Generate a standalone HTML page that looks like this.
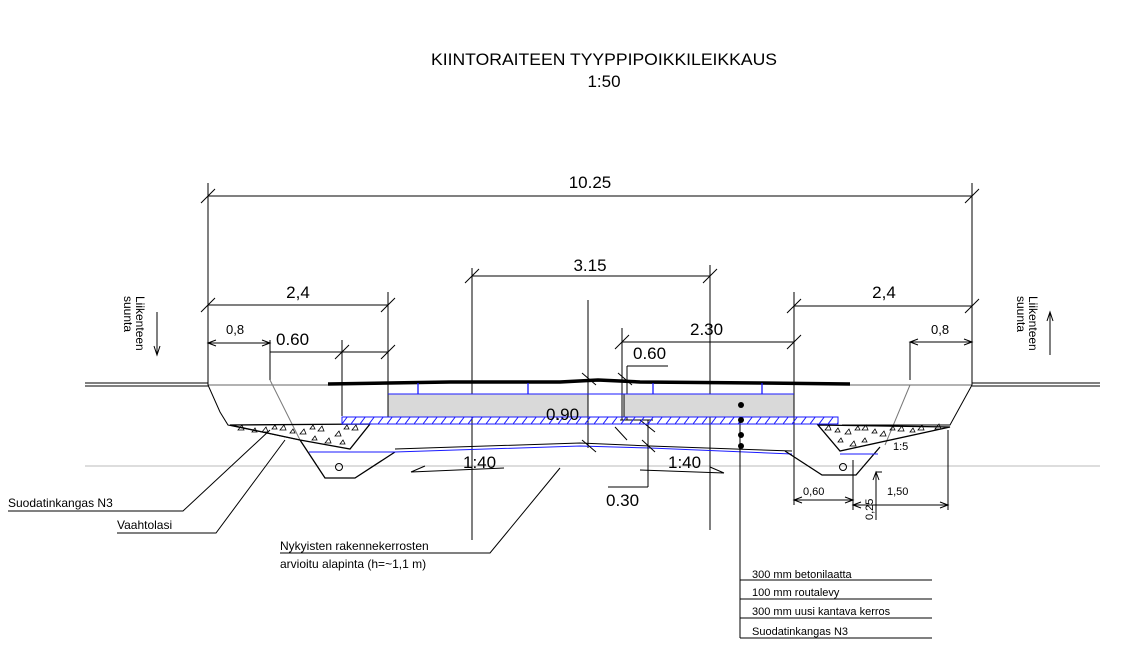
<!DOCTYPE html>
<html><head><meta charset="utf-8"><style>
html,body{margin:0;padding:0;background:#fff;}
svg{display:block;}
text{font-family:"Liberation Sans",sans-serif;fill:#000;}
</style></head><body>
<svg width="1134" height="649" viewBox="0 0 1134 649" xmlns="http://www.w3.org/2000/svg">
<defs>
<pattern id="hat" width="9" height="8" patternUnits="userSpaceOnUse">
<line x1="0" y1="8" x2="6" y2="0" stroke="#1a1aff" stroke-width="1"/>
</pattern>
</defs>
<text x="604" y="65" font-size="17" text-anchor="middle" textLength="346" lengthAdjust="spacingAndGlyphs">KIINTORAITEEN TYYPPIPOIKKILEIKKAUS</text>
<text x="604" y="87" font-size="17" text-anchor="middle">1:50</text>

<g stroke="#000" stroke-width="1" fill="none">
<line x1="85" y1="383" x2="208" y2="383"/><line x1="85" y1="386" x2="208" y2="386"/>
<line x1="208" y1="385" x2="328" y2="385" stroke="#666"/>
<line x1="850" y1="385" x2="972" y2="385" stroke="#666"/>
<line x1="972" y1="383" x2="1100" y2="383"/><line x1="972" y1="386" x2="1100" y2="386"/>
<line x1="85" y1="466" x2="1100" y2="466" stroke="#bbb"/>

<line x1="208" y1="183" x2="208" y2="385"/><line x1="972" y1="183" x2="972" y2="385"/>
<line x1="208" y1="196" x2="972" y2="196"/>
<line x1="201" y1="203" x2="215" y2="189"/><line x1="965" y1="203" x2="979" y2="189"/>
<line x1="472" y1="268" x2="472" y2="540"/><line x1="710" y1="265" x2="710" y2="530"/>
<line x1="472" y1="276" x2="710" y2="276"/>
<line x1="465" y1="283" x2="479" y2="269"/><line x1="703" y1="283" x2="717" y2="269"/>
<line x1="208" y1="305" x2="388" y2="305"/>
<line x1="201" y1="312" x2="215" y2="298"/><line x1="381" y1="312" x2="395" y2="298"/>
<line x1="388" y1="292" x2="388" y2="394"/>
<line x1="208" y1="343" x2="270" y2="343"/>
<path d="M216 340 L208 343 L216 346 M262 340 L270 343 L262 346"/>
<line x1="270" y1="340" x2="270" y2="380"/>
<line x1="270" y1="380" x2="300" y2="440" stroke="#777"/>
<line x1="270" y1="352" x2="388" y2="352"/>
<line x1="342" y1="340" x2="342" y2="416"/>
<line x1="335" y1="359" x2="349" y2="345"/><line x1="381" y1="359" x2="395" y2="345"/>
<line x1="588" y1="300" x2="588" y2="448"/>
<line x1="622" y1="342" x2="794" y2="342"/>
<line x1="622" y1="328" x2="622" y2="420"/>
<line x1="615" y1="349" x2="629" y2="335"/><line x1="787" y1="349" x2="801" y2="335"/>
<line x1="627" y1="366" x2="668" y2="366"/><line x1="627" y1="366" x2="627" y2="420"/>
<line x1="794" y1="306" x2="972" y2="306"/><line x1="794" y1="292" x2="794" y2="505"/>
<line x1="787" y1="313" x2="801" y2="299"/><line x1="965" y1="313" x2="979" y2="299"/>
<line x1="910" y1="342" x2="972" y2="342"/>
<path d="M918 339 L910 342 L918 345 M964 339 L972 342 L964 345"/>
<line x1="910" y1="342" x2="910" y2="380"/>
<line x1="910" y1="385" x2="885" y2="445" stroke="#777"/>

<path d="M208 385 L220 412 L228 425 L300 440"/>
<path d="M230 425 L370 424 L350 449 L300 440 Z" stroke-width="1.3"/>
<path d="M300 440 L325 478 L355 478 L395 452" stroke-width="1.3"/>
<path d="M309 452 L395 452" stroke="#1a1aff"/>
<path d="M395 449 L580 443 L650 446 L792 451"/>
<path d="M395 452 L580 446 L650 448 L792 454" stroke="#1a1aff"/>
<path d="M972 385 L950 425 L842 425"/>
<path d="M818 425 L950 427 L840 451 Z" stroke-width="1.3"/>
<path d="M785 451 L822 475 L856 475 L880 447" stroke-width="1.3"/>
<path d="M840 454 L878 454" stroke="#1a1aff"/>
<circle cx="339" cy="467" r="3.5"/><circle cx="843" cy="467" r="3.5"/>
<line x1="853" y1="505" x2="948" y2="505"/>
<line x1="794" y1="500" x2="853" y2="500"/>
<path d="M802 497 L794 500 L802 503 M845 497 L853 500 L845 503 M861 502 L853 505 L861 508 M940 502 L948 505 L940 508"/>
<line x1="853" y1="460" x2="853" y2="510"/>
<line x1="948" y1="430" x2="948" y2="510"/>
<line x1="876" y1="472" x2="876" y2="520"/>
<path d="M873 480 L876 472 L879 480"/>
<line x1="876" y1="472" x2="882" y2="472"/>

<line x1="557" y1="394" x2="557" y2="420"/>
<line x1="620" y1="420" x2="653" y2="420"/>
<line x1="648" y1="420" x2="648" y2="487"/><line x1="608" y1="487" x2="648" y2="487"/>
<line x1="615" y1="427" x2="627" y2="440"/><line x1="640" y1="420" x2="655" y2="432"/>
<line x1="582" y1="440" x2="596" y2="452"/><line x1="642" y1="440" x2="655" y2="452"/>
<line x1="582" y1="373" x2="596" y2="385"/><line x1="618" y1="373" x2="632" y2="385"/>

<path d="M411 472 L425 466 M411 472 L504 468"/>
<path d="M724 473 L710 467 M724 473 L640 470"/>

<path d="M8 511 L183 511 L270 430"/>
<path d="M117 533 L216 533 L285 440"/>
<path d="M280 553 L490 553 L560 468"/>
<line x1="740" y1="400" x2="740" y2="638"/>
<line x1="740" y1="580" x2="932" y2="580"/><line x1="740" y1="599" x2="932" y2="599"/>
<line x1="740" y1="618" x2="932" y2="618"/><line x1="740" y1="638" x2="932" y2="638"/>

<line x1="157" y1="312" x2="157" y2="355"/><path d="M154 346 L157 355 L160 346"/>
<line x1="1050" y1="312" x2="1050" y2="355"/><path d="M1047 321 L1050 312 L1053 321"/>
</g>

<rect x="388" y="394" width="200" height="23" fill="#d9d9d9" stroke="#000" stroke-width="1"/>
<rect x="624" y="394" width="170" height="23" fill="#d9d9d9" stroke="#000" stroke-width="1"/>
<line x1="388" y1="394" x2="794" y2="394" stroke="#1a1aff"/>
<rect x="342" y="417" width="496" height="7" fill="url(#hat)" stroke="#1a1aff" stroke-width="1"/>
<path d="M328 384 L450 382 L560 382 L598 380 L640 382 L760 383 L850 384" stroke="#000" stroke-width="3.5" fill="none"/>
<g stroke="#1a1aff" stroke-width="1.3">
<line x1="418" y1="383" x2="418" y2="394"/><line x1="528" y1="383" x2="528" y2="394"/>
<line x1="653" y1="383" x2="653" y2="394"/><line x1="762" y1="383" x2="762" y2="394"/>
</g>
<g fill="#000"><circle cx="741" cy="405" r="3"/><circle cx="741" cy="420" r="3"/><circle cx="741" cy="435" r="3"/><circle cx="741" cy="446" r="3"/></g>
<g fill="none" stroke="#000" stroke-width="0.8">
<path d="M238 430 l4 -5 l2 5z M252 432 l3 -4 l2 4z M262 432 l4 -5 l2 5z M272 429 l3 -4 l2 4z M280 430 l4 -5 l2 5z M290 433 l3 -4 l2 4z M300 434 l4 -5 l2 5z M310 429 l3 -4 l2 4z M318 431 l4 -5 l2 5z M335 436 l4 -5 l2 5z M344 429 l3 -4 l2 4z M352 430 l4 -5 l2 5z M325 443 l4 -5 l2 5z M340 444 l3 -4 l2 4z M312 440 l3 -4 l2 4z"/>
<path d="M825 430 l4 -5 l2 5z M835 432 l3 -4 l2 4z M845 434 l4 -5 l2 5z M855 430 l3 -4 l2 4z M862 430 l4 -5 l2 5z M872 433 l3 -4 l2 4z M880 436 l4 -5 l2 5z M890 430 l3 -4 l2 4z M898 431 l4 -5 l2 5z M910 432 l3 -4 l2 4z M918 430 l4 -5 l2 5z M935 429 l4 -5 l2 5z M850 446 l4 -5 l2 5z M838 442 l3 -4 l2 4z M862 442 l3 -4 l2 4z"/>
</g>

<g font-size="17">
<text x="590" y="188" text-anchor="middle">10.25</text>
<text x="590" y="271" text-anchor="middle">3.15</text>
<text x="298" y="298" text-anchor="middle">2,4</text>
<text x="884" y="298" text-anchor="middle">2,4</text>
<text x="276" y="345">0.60</text>
<text x="690" y="335">2.30</text>
<text x="633" y="359">0.60</text>
<text x="546" y="420">0.90</text>
<text x="606" y="506">0.30</text>
<text x="463" y="468">1:40</text>
<text x="668" y="468">1:40</text>
</g>
<g font-size="13">
<text x="226" y="334">0,8</text>
<text x="931" y="334">0,8</text>
</g>
<g font-size="11">
<text x="893" y="450">1:5</text>
<text x="803" y="495">0,60</text>
<text x="887" y="495">1,50</text>
<text transform="translate(873,520) rotate(-90)">0,25</text>
</g>
<g font-size="12">
<text x="8" y="507">Suodatinkangas N3</text>
<text x="117" y="529">Vaahtolasi</text>
<text x="280" y="550">Nykyisten rakennekerrosten</text>
<text x="280" y="568">arvioitu alapinta (h=~1,1 m)</text>
</g>
<g font-size="11">
<text x="752" y="578">300 mm betonilaatta</text>
<text x="752" y="596">100 mm routalevy</text>
<text x="752" y="615">300 mm uusi kantava kerros</text>
<text x="752" y="635">Suodatinkangas N3</text>
</g>
<g font-size="12">
<text transform="translate(124,296) rotate(90)">suunta</text>
<text transform="translate(136,296) rotate(90)">Liikenteen</text>
<text transform="translate(1017,296) rotate(90)">suunta</text>
<text transform="translate(1029,296) rotate(90)">Liikenteen</text>
</g>
</svg>
</body></html>
